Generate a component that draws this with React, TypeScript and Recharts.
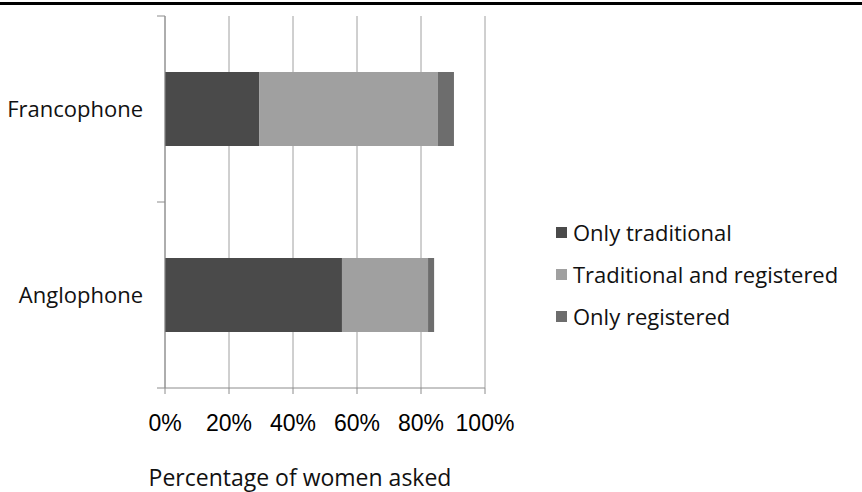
import { BarChart, Bar, XAxis, YAxis, CartesianGrid, Legend, Label } from "recharts";

const categories = ["Francophone", "Anglophone"];
const onlyTraditional = [29.4, 55.3];
const traditionalAndRegistered = [55.9, 26.9];
const onlyRegistered = [5.0, 1.9];
const xTicks = [0, 20, 40, 60, 80, 100];
const seriesNames = ["Only traditional", "Traditional and registered", "Only registered"];

const data = categories.map((name, i) => ({
  name,
  onlyTraditional: onlyTraditional[i],
  traditionalAndRegistered: traditionalAndRegistered[i],
  onlyRegistered: onlyRegistered[i],
}));

const PLOT_TOP = 16;
const PLOT_BOTTOM = 388;
const AXIS_X = 165;
const BAND = (PLOT_BOTTOM - PLOT_TOP) / categories.length;
const AXIS_COLOR = "#8c8c8c";
const LABEL_FONT = "'Open Sans', sans-serif";

function CategoryTick({ y, payload, index }: any) {
  const top = y - BAND / 2;
  const bottom = y + BAND / 2;
  return (
    <g>
      <line x1={AXIS_X - 8} x2={AXIS_X} y1={top} y2={top} stroke={AXIS_COLOR} />
      {index === categories.length - 1 && (
        <line x1={AXIS_X - 8} x2={AXIS_X} y1={bottom} y2={bottom} stroke={AXIS_COLOR} />
      )}
      <text x={143} y={y} dy={8} textAnchor="end" fontFamily={LABEL_FONT} fontSize={22} fill="#111">
        {payload.value}
      </text>
    </g>
  );
}

function LegendList({ payload }: any) {
  const items = [...(payload || [])].sort(
    (a: any, b: any) => seriesNames.indexOf(a.value) - seriesNames.indexOf(b.value)
  );
  return (
    <div style={{ fontFamily: LABEL_FONT, fontSize: 22, color: "#111" }}>
      {items.map((p: any) => (
        <div key={p.value} style={{ height: 42, display: "flex", alignItems: "center" }}>
          <span style={{ width: 11, height: 11, background: p.color, marginRight: 6, display: "inline-block" }} />
          {p.value}
        </div>
      ))}
    </div>
  );
}

export default function App() {
  return (
    <div style={{ position: "absolute", left: 0, top: 0, width: 862, height: 492, background: "#fff" }}>
      <BarChart
        width={862}
        height={492}
        data={data}
        layout="vertical"
        margin={{ top: PLOT_TOP, right: 377, bottom: 0, left: 0 }}
        barCategoryGap={0}
      >
        <CartesianGrid horizontal={false} stroke="#a0a0a0" />
        <XAxis
          type="number"
          domain={[0, 100]}
          ticks={xTicks}
          tickFormatter={(v: number) => `${v}%`}
          height={104}
          stroke={AXIS_COLOR}
          tickSize={6}
          tickMargin={21}
          tick={{ fill: "#000", fontSize: 23, fontFamily: "'Liberation Sans', Arial, sans-serif" }}
          interval={0}
        >
          <Label
            value="Percentage of women asked"
            position="insideBottom"
            offset={6}
            dx={-25}
            style={{ fill: "#111", fontSize: 23, fontFamily: LABEL_FONT }}
          />
        </XAxis>
        <YAxis
          type="category"
          dataKey="name"
          width={AXIS_X}
          stroke={AXIS_COLOR}
          tickLine={false}
          tick={<CategoryTick />}
        />
        <Legend
          layout="horizontal"
          verticalAlign="middle"
          align="center"
          content={<LegendList />}
          wrapperStyle={{ left: 556, top: 211, width: 306 }}
        />
        <Bar dataKey="onlyTraditional" name="Only traditional" stackId="a" fill="#4a4a4a" barSize={74} isAnimationActive={false} />
        <Bar dataKey="traditionalAndRegistered" name="Traditional and registered" stackId="a" fill="#a0a0a0" barSize={74} isAnimationActive={false} />
        <Bar dataKey="onlyRegistered" name="Only registered" stackId="a" fill="#6d6d6d" barSize={74} isAnimationActive={false} />
      </BarChart>
      <div style={{ position: "absolute", left: 0, top: 2, width: 862, height: 3, background: "#000" }} />
    </div>
  );
}
